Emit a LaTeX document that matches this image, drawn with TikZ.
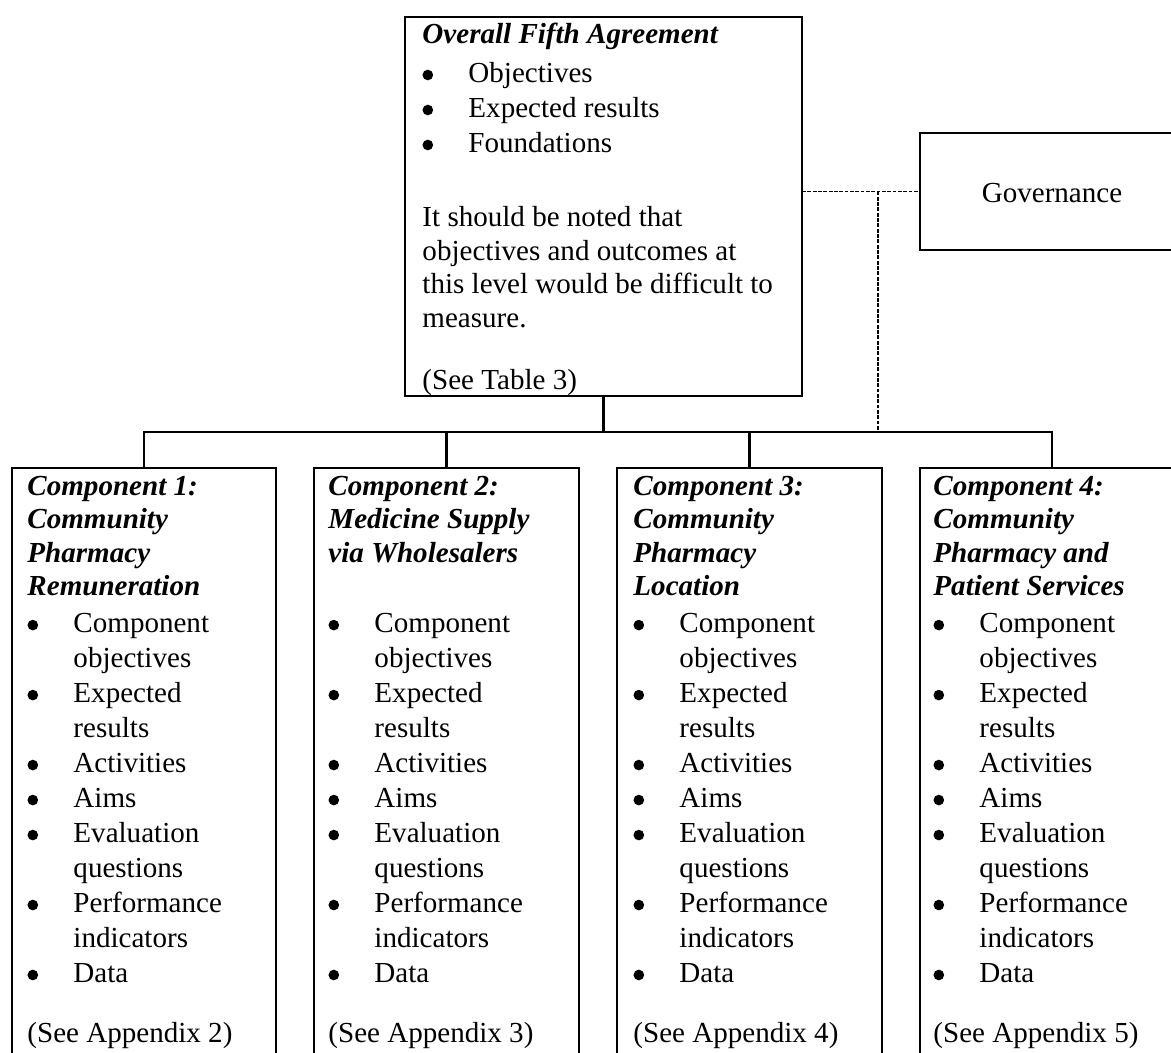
\documentclass[tikz,border=0pt]{standalone}
\usepackage{fontspec}
\setmainfont{Liberation Serif}[Ligatures={TeX,CommonOff}]
\newdimen\pxu \pxu=0.413pt
\newsavebox\bulbox
\sbox\bulbox{\tikz[baseline=-2.9pt]\fill (0,0) circle (2.2pt);}
\newcommand\bul{\makebox[46\pxu][l]{\usebox\bulbox}}
\newcommand\cont{\hspace*{46\pxu}}
\newcommand\bi[1]{\textbf{\textit{#1}}}
\begin{document}
\begin{tikzpicture}[x=0.413pt,y=-0.413pt,
  box/.style={draw,line width=1pt,inner sep=0pt,outer sep=0pt,anchor=north west},
  conn/.style={line width=0.9pt},
  dsh/.style={line width=0.45pt,dash pattern=on 1.6pt off 0.6pt},
  txt/.style={anchor=base west,inner sep=0pt,align=left,font=\fontsize{12}{13.79}\selectfont},
  lst/.style={anchor=base west,inner sep=0pt,align=left,font=\fontsize{12}{14.45}\selectfont}]
\useasboundingbox (0,0) rectangle (1171,1052);
\clip (0,0) rectangle (1171,1052);
% boxes
\node[box,minimum width=397\pxu,minimum height=379\pxu] (top) at (405,17) {};
\node[box,minimum width=264\pxu,minimum height=117\pxu] (gov) at (920,133) {};
\node[box,minimum width=264\pxu,minimum height=640\pxu] (c1) at (12,468) {};
\node[box,minimum width=265\pxu,minimum height=640\pxu] (c2) at (314,468) {};
\node[box,minimum width=265\pxu,minimum height=640\pxu] (c3) at (617,468) {};
\node[box,minimum width=264\pxu,minimum height=640\pxu] (c4) at (920,468) {};
% connectors
\draw[conn] (top.south) -- ++(0,36) coordinate (hub);
\draw[conn] (c1.north) -- (c1.north |- hub) -- (c4.north |- hub) -- (c4.north);
\draw[conn] (c2.north) -- (c2.north |- hub);
\draw[conn] (c3.north) -- (c3.north |- hub);
\coordinate (dl) at (top.east |- gov.west);
\draw[dsh] (dl) -- (gov.west);
\coordinate (dj) at (878,0 |- gov.west);
\draw[dsh] (dj) -- (dj |- hub);
% top box text (multi-line nodes: base = last line)
\node[txt] (t1) at (422,43) {\bi{Overall Fifth Agreement}};
\node[lst] (t2) at (422,152) {\bul Objectives\\ \bul Expected results\\ \bul Foundations};
\node[txt] (t3) at (422,327) {It should be noted that\\objectives and outcomes at\\this level would be difficult to\\measure.};
\node[txt] (t4) at (422,389) {(See Table 3)};
% governance
\node[txt,anchor=base] (g1) at (1052,202) {Governance};
% component 1
\node[txt] (a1) at (27,595.5) {\bi{Component 1:}\\ \bi{Community}\\ \bi{Pharmacy}\\ \bi{Remuneration}};
\node[lst] (a2) at (27,982) {\bul Component\\ \cont objectives\\ \bul Expected\\ \cont results\\ \bul Activities\\ \bul Aims\\ \bul Evaluation\\ \cont questions\\ \bul Performance\\ \cont indicators\\ \bul Data};
\node[txt] (a3) at (27,1042) {(See Appendix 2)};
% component 2
\node[txt] (b1) at (328,562) {\bi{Component 2:}\\ \bi{Medicine Supply}\\ \bi{via Wholesalers}};
\node[lst] (b2) at (328,982) {\bul Component\\ \cont objectives\\ \bul Expected\\ \cont results\\ \bul Activities\\ \bul Aims\\ \bul Evaluation\\ \cont questions\\ \bul Performance\\ \cont indicators\\ \bul Data};
\node[txt] (b3) at (328,1042) {(See Appendix 3)};
% component 3
\node[txt] (d1) at (633,595.5) {\bi{Component 3:}\\ \bi{Community}\\ \bi{Pharmacy}\\ \bi{Location}};
\node[lst] (d2) at (633,982) {\bul Component\\ \cont objectives\\ \bul Expected\\ \cont results\\ \bul Activities\\ \bul Aims\\ \bul Evaluation\\ \cont questions\\ \bul Performance\\ \cont indicators\\ \bul Data};
\node[txt] (d3) at (633,1042) {(See Appendix 4)};
% component 4
\node[txt] (e1) at (933,595.5) {\bi{Component 4:}\\ \bi{Community}\\ \bi{Pharmacy and}\\ \bi{Patient Services}};
\node[lst] (e2) at (933,982) {\bul Component\\ \cont objectives\\ \bul Expected\\ \cont results\\ \bul Activities\\ \bul Aims\\ \bul Evaluation\\ \cont questions\\ \bul Performance\\ \cont indicators\\ \bul Data};
\node[txt] (e3) at (933,1042) {(See Appendix 5)};
\end{tikzpicture}
\end{document}
